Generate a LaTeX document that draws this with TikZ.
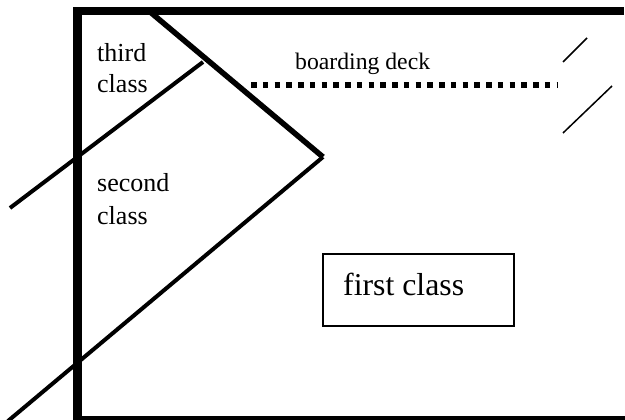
\documentclass[tikz,border=0pt]{standalone}
\usepackage{fontspec}
\setmainfont{Liberation Serif}
\begin{document}
\begin{tikzpicture}[x=1pt,y=-1pt,
  wall/.style={line width=8.5pt,line join=miter,line cap=butt},
  bulkhead/.style={line width=5.5pt,line cap=butt,line join=miter},
  partition/.style={line width=4pt},
  deckline/.style={line width=5.5pt,dash pattern=on 5.5pt off 6.25pt},
  ramp/.style={line width=1.5pt},
  roomlabel/.style={anchor=base west,inner sep=0pt,font=\fontsize{26}{30}\selectfont},
  firstbox/.style={draw,line width=2pt,minimum width=191pt,minimum height=72pt,inner sep=0pt}]
  \useasboundingbox (0,0) rectangle (625,420);
  \fill[white] (0,0) rectangle (625,420);

  % hull outline
  \coordinate (hullTR) at (624,11);
  \coordinate (hullTL) at (77.5,11);
  \coordinate (hullBL) at (77.5,420);
  \coordinate (hullBR) at (626,420);
  \draw[wall] (hullTR) -- (hullTL) -- (hullBL) -- (hullBR);

  % bulkhead and class partitions
  \coordinate (bhTop) at (149,11);
  \coordinate (bhTip) at (323,157);
  \coordinate (lowEnd) at (8,421);
  \coordinate (upStart) at (203,62);
  \coordinate (upEnd) at (10,208);
  \draw[bulkhead] (bhTop) -- (bhTip);
  \draw[partition] (bhTip) -- (lowEnd);
  \draw[partition] (upStart) -- (upEnd);

  % boarding deck
  \coordinate (deckW) at (251,85);
  \coordinate (deckE) at (557,85);
  \draw[deckline] (deckW) -- (deckE);

  % gangway marks
  \coordinate (rampAa) at (563,62);
  \coordinate (rampAb) at (587,38);
  \coordinate (rampBa) at (563,133);
  \coordinate (rampBb) at (612,86);
  \draw[ramp] (rampAa) -- (rampAb);
  \draw[ramp] (rampBa) -- (rampBb);

  % labels
  \node[roomlabel] (third1) at (97,62) {third};
  \node[roomlabel] (third2) at (97,93) {class};
  \node[roomlabel] (second1) at (97,192) {second};
  \node[roomlabel] (second2) at (97,224) {class};
  \node[anchor=base west,inner sep=0pt,font=\fontsize{23.7}{28}\selectfont] (deck) at (295,70) {boarding deck};

  \node[firstbox] (first) at (418.5,290) {};
  \node[anchor=base west,inner sep=0pt,font=\fontsize{31.8}{36}\selectfont] (firstlbl) at (343,295) {first class};
\end{tikzpicture}
\end{document}
